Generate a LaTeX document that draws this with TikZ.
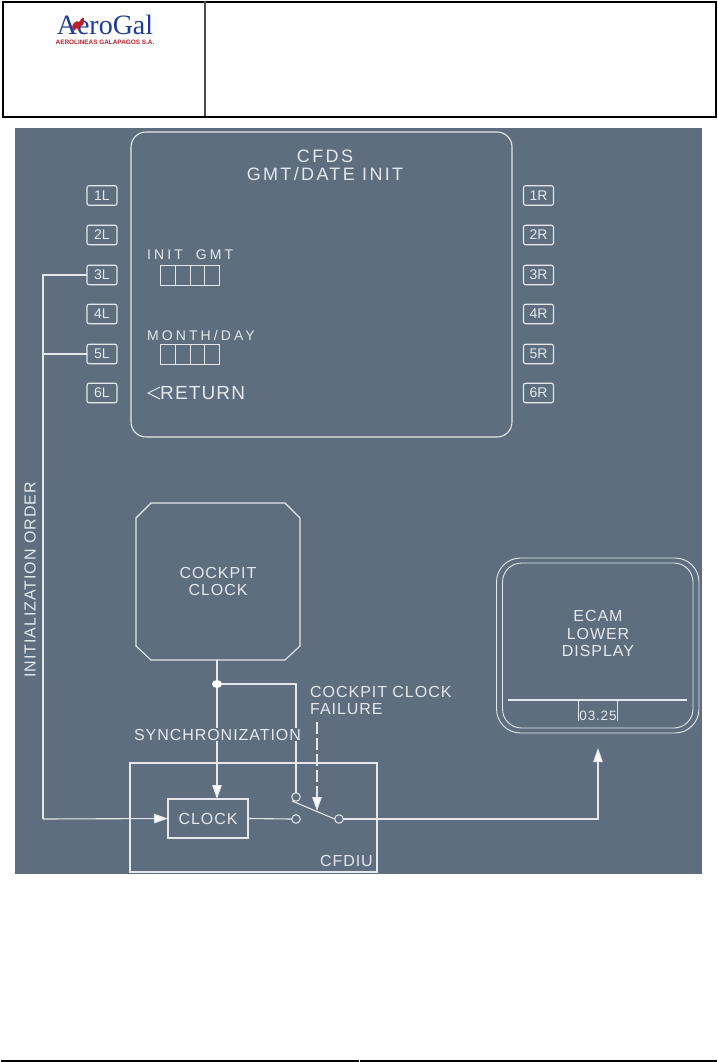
\documentclass[tikz,border=0pt]{standalone}
\usepackage{fontspec}
\setmainfont{Liberation Sans}
\newfontfamily\wide[LetterSpace=6]{Liberation Sans}
\newfontfamily\widest[LetterSpace=13]{Liberation Sans}
\newfontfamily\wider[LetterSpace=22]{Liberation Sans}
\newfontfamily\logofont{Liberation Serif}
\usetikzlibrary{arrows.meta,calc}
\definecolor{panel}{HTML}{5E6E7E}
\definecolor{ink}{HTML}{E4E8EC}
\definecolor{logoblue}{HTML}{1F3C94}
\definecolor{logored}{HTML}{B8202C}
\tikzset{
  x=1pt,y=-1pt,
  wire/.style={draw=ink,line width=1.1pt},
  tip/.style={-{Triangle[length=14pt,width=9.5pt,fill=white]}},
  box/.style={draw=ink,line width=1.1pt,inner sep=0pt,outer sep=0pt},
  key/.style={box,rounded corners=2pt,minimum width=30pt,minimum height=19.5pt,text=ink,font=\fontsize{14}{16}\selectfont},
  lab/.style={text=ink,inner sep=0pt,font=\fontsize{16}{17.5}\wide,align=center},
  cell/.style={draw=ink,line width=.9pt},
  pin/.style={circle,draw=ink,line width=1pt,fill=panel,minimum size=8.5pt,inner sep=0pt,outer sep=0pt},
}
\begin{document}
\begin{tikzpicture}
\useasboundingbox (0,0) rectangle (717,1062);
\fill[white] (0,0) rectangle (717,1062);
% header
\node[draw=black,line width=2pt,inner sep=0pt,anchor=north west,minimum width=713.5pt,minimum height=115pt] (hdr) at (1.5,1.5) {};
\draw[draw=black!70,line width=1.2pt] (205,1.5) -- (205,116);
\node[inner sep=0pt,text=logoblue,font=\fontsize{28}{28}\logofont] (logo) at (105,25) {AeroGal};
\node[inner sep=0pt,text=logored,font=\fontsize{6.4}{7}\bfseries] (logosub) at (105,42) {AEROLINEAS GALAPAGOS S.A.};
\fill[logored] (72,27) .. controls (73,22) and (77,20) .. (79,22) .. controls (82,17) and (85,16) .. (84,21) .. controls (84,25) and (81,27) .. (79,27) -- (80,32) -- (77,28) -- (74,31) -- cycle;
% footer
\draw[black,line width=2pt] (1,1060.5) -- (717,1060.5);
\draw[white,line width=.6pt] (359,1059) -- (359,1062);
% panel
\fill[panel] (15,128) rectangle (702,874);
% screen
\draw[wire,rounded corners=15pt] (131,132) rectangle (512,437);
\node[lab,font=\fontsize{18}{18}\widest] (title) at (325,165.5) {CFDS\\GMT/DATE INIT};
% keys
\foreach \n/\y in {1/195.5,2/235,3/275,4/314,5/354,6/393}{
  \node[key] (k\n L) at (102,\y) {\n L};
  \node[key] (k\n R) at (538.5,\y) {\n R};
}
% entry fields
\node[lab,anchor=west,font=\fontsize{14}{16}\wider] (initgmt) at (147,255) {INIT\hspace{6pt} GMT};
\draw[cell] (160,265) rectangle (219,285) (175,265) -- (175,285) (190,265) -- (190,285) (204,265) -- (204,285);
\node[lab,anchor=west,font=\fontsize{14}{16}\wider] (month) at (147,335) {MONTH/DAY};
\draw[cell] (160,344) rectangle (219,364) (175,344) -- (175,364) (190,344) -- (190,364) (204,344) -- (204,364);
\draw[draw=ink,line width=.9pt] (160,387) -- (148,393) -- (160,399);
\node[lab,anchor=west,font=\fontsize{19}{20}\wide] (ret) at (160,393.5) {RETURN};
% clock face
\node[lab] (cclabel) at (218,581.5) {COCKPIT\\CLOCK};
\draw[wire] (151,503) -- (285,503) -- (300,518) -- (300,646) -- (285,660) -- (151,660) -- (136,646) -- (136,518) -- cycle;
\coordinate (ccb) at (217,660);
% CFDIU
\draw[wire] (130,763) rectangle (377,872);
\node[lab,anchor=south east] (cfdiu) at (373,867) {CFDIU};
\node[box,minimum width=80pt,minimum height=39pt] (clock) at (208,818.5) {};
\node[lab] at (clock) {CLOCK};
% switch
\node[pin] (p1) at (296,797) {};
\node[pin] (p2) at (296,819) {};
\node[pin] (p3) at (339,819) {};
\coordinate (dot) at (217,684);
\coordinate (ctop) at (217,799);
% wires
\draw[wire] (ccb) -- (dot);
\draw[wire,tip] (dot) -- (ctop);
\draw[wire] (dot) -| (p1.north);
\fill[white] (dot) ellipse (5pt and 4pt);
\draw[wire] (clock.east) -- (p2.west);
\draw[wire] ($(p1)+(-4,4)$) -- (p3.west);
\node[lab,fill=panel,inner ysep=1pt] (sync) at (217.5,734.5) {SYNCHRONIZATION};
\node[lab,anchor=west,align=left] (fail) at (310,700.5) {COCKPIT CLOCK\\FAILURE};
\coordinate (sw) at (317,811);
\draw[wire,dash pattern=on 12pt off 4pt,tip] (317,722) -- (sw);
\coordinate (ein) at (598,748);
\draw[wire,tip] (p3.east) -| (ein);
% initialization
\coordinate (bus) at (43,819);
\draw[wire] (k3L.west) -| (bus);
\draw[wire] (k5L.west) -- (43,354);
\draw[wire,tip] (bus) -- (clock.west);
\node[lab,rotate=90] (order) at (30,580) {INITIALIZATION ORDER};
% ECAM
\draw[wire,line width=.9pt,rounded corners=24pt] (496.5,558) rectangle (699,733);
\draw[wire,line width=.9pt,rounded corners=19pt] (502.5,563) rectangle (693,728);
\node[lab] (ecam) at (598,633.5) {ECAM\\LOWER\\DISPLAY};
\draw[wire] (508,700) -- (687,700);
\draw[wire,line width=.8pt] (578,700) -- (578,721) (617,700) -- (617,721);
\node[lab,font=\fontsize{13.5}{15}\wide] (time) at (598,716) {03.25};
\end{tikzpicture}
\end{document}
